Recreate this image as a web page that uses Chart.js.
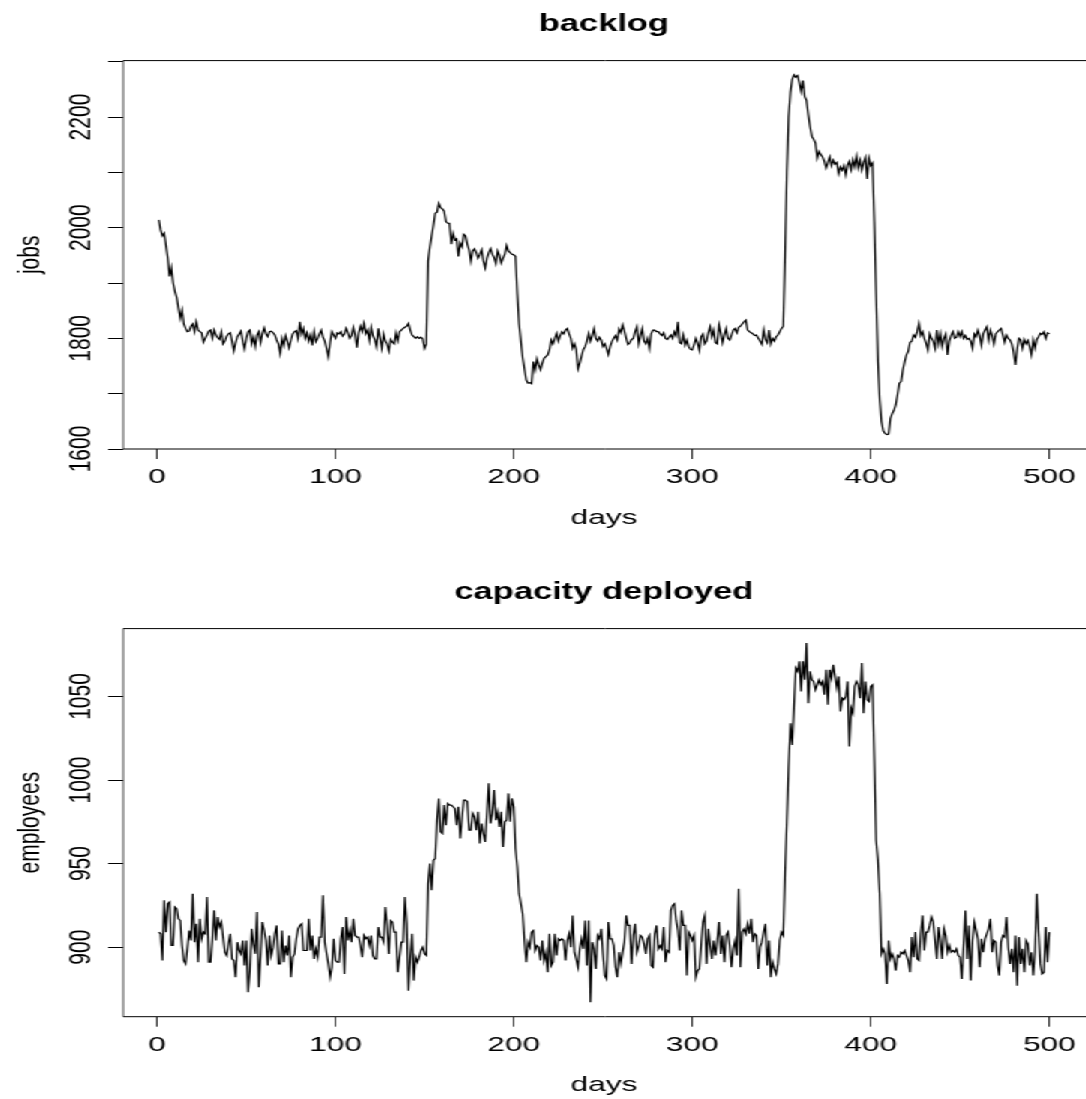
<!DOCTYPE html>
<html>
<head>
<meta charset="utf-8">
<title>backlog / capacity deployed</title>
<script src="https://cdn.jsdelivr.net/npm/chart.js@4.4.1/dist/chart.umd.min.js"></script>
<style>
  html, body { margin: 0; padding: 0; background: #fff; overflow: hidden; }
  /* plots are laid out at 724px wide and stretched to the full page width */
  #page { width: 724px; height: 1099px; transform: scaleX(1.5); transform-origin: 0 0; }
  .panel { position: relative; width: 724px; }
</style>
</head>
<body>
<div id="page">
  <div class="panel" style="height:568px"><canvas id="backlogChart"></canvas></div>
  <div class="panel" style="height:531px"><canvas id="capacityChart"></canvas></div>
</div>
<script>
// jobs waiting, one value per day (days 1..500)
const backlog = [
  2014, 1996, 1985, 1990, 1968, 1945, 1912, 1928, 1900, 1885,
  1874, 1855, 1836, 1851, 1826, 1818, 1812, 1813, 1822, 1826,
  1812, 1830, 1815, 1812, 1810, 1793, 1800, 1806, 1813, 1815,
  1800, 1815, 1806, 1801, 1798, 1812, 1790, 1795, 1804, 1808,
  1810, 1795, 1777, 1792, 1803, 1808, 1813, 1795, 1781, 1800,
  1812, 1815, 1790, 1802, 1785, 1806, 1812, 1792, 1809, 1819,
  1808, 1803, 1812, 1813, 1810, 1806, 1797, 1790, 1773, 1800,
  1787, 1805, 1795, 1783, 1797, 1808, 1812, 1814, 1800, 1830,
  1808, 1818, 1800, 1810, 1795, 1806, 1787, 1812, 1794, 1800,
  1808, 1815, 1802, 1795, 1782, 1767, 1793, 1812, 1806, 1800,
  1810, 1808, 1812, 1804, 1808, 1818, 1810, 1800, 1805, 1820,
  1806, 1783, 1810, 1822, 1812, 1827, 1808, 1815, 1796, 1820,
  1805, 1798, 1785, 1818, 1800, 1782, 1808, 1795, 1790, 1777,
  1798, 1793, 1790, 1810, 1796, 1812, 1815, 1818, 1820, 1822,
  1827, 1815, 1806, 1803, 1800, 1803, 1800, 1802, 1799, 1782,
  1790, 1940, 1965, 1985, 2005, 2026, 2028, 2044, 2036, 2034,
  2030, 2011, 2008, 2008, 1970, 1990, 1978, 1980, 1948, 1972,
  1965, 1988, 1985, 1970, 1960, 1939, 1958, 1962, 1955, 1945,
  1952, 1960, 1940, 1927, 1945, 1955, 1962, 1952, 1946, 1935,
  1958, 1950, 1936, 1945, 1952, 1968, 1958, 1955, 1952, 1951,
  1948, 1880, 1826, 1795, 1765, 1745, 1725, 1719, 1720, 1718,
  1758, 1743, 1763, 1752, 1743, 1755, 1764, 1767, 1770, 1779,
  1797, 1790, 1800, 1809, 1795, 1805, 1812, 1808, 1815, 1818,
  1808, 1800, 1782, 1790, 1780, 1745, 1755, 1768, 1780, 1785,
  1795, 1809, 1795, 1805, 1818, 1800, 1795, 1802, 1797, 1785,
  1790, 1782, 1771, 1785, 1794, 1800, 1805, 1797, 1817, 1810,
  1824, 1813, 1800, 1789, 1792, 1798, 1800, 1812, 1821, 1790,
  1805, 1818, 1795, 1790, 1800, 1782, 1808, 1815, 1815, 1812,
  1812, 1808, 1805, 1810, 1800, 1798, 1802, 1806, 1800, 1812,
  1805, 1830, 1792, 1790, 1806, 1788, 1797, 1785, 1780, 1779,
  1788, 1800, 1792, 1778, 1803, 1808, 1790, 1795, 1810, 1821,
  1803, 1815, 1792, 1790, 1824, 1810, 1792, 1806, 1818, 1800,
  1797, 1806, 1815, 1818, 1810, 1820, 1822, 1826, 1830, 1833,
  1815, 1812, 1810, 1808, 1805, 1806, 1800, 1795, 1789, 1815,
  1798, 1792, 1815, 1790, 1800, 1795, 1803, 1806, 1812, 1818,
  1822, 1950, 2100, 2200, 2245, 2268, 2276, 2272, 2275, 2262,
  2246, 2266, 2237, 2230, 2204, 2183, 2165, 2160, 2153, 2126,
  2138, 2132, 2128, 2120, 2108, 2118, 2128, 2112, 2122, 2115,
  2118, 2098, 2110, 2104, 2112, 2095, 2113, 2120, 2105, 2123,
  2110, 2129, 2108, 2122, 2104, 2118, 2127, 2088, 2125, 2112,
  2117, 2010, 1880, 1760, 1690, 1650, 1633, 1628, 1626, 1627,
  1655, 1664, 1670, 1680, 1698, 1719, 1722, 1743, 1758, 1770,
  1777, 1793, 1795, 1806, 1802, 1812, 1827, 1805, 1812, 1800,
  1791, 1779, 1808, 1800, 1795, 1782, 1815, 1790, 1808, 1785,
  1800, 1808, 1770, 1795, 1805, 1812, 1800, 1802, 1812, 1803,
  1812, 1800, 1805, 1798, 1800, 1795, 1782, 1808, 1803, 1815,
  1805, 1787, 1808, 1815, 1821, 1797, 1815, 1805, 1790, 1808,
  1812, 1815, 1818, 1806, 1793, 1806, 1800, 1797, 1790, 1775,
  1752, 1780, 1800, 1797, 1782, 1798, 1790, 1796, 1785, 1770,
  1797, 1782, 1798, 1803, 1809, 1807, 1812, 1800, 1810, 1808
];

// employees on duty, one value per day (days 1..500)
const capacity = [
  909, 908, 892, 928, 909, 926, 927, 901, 901, 924,
  923, 917, 916, 901, 892, 890, 899, 910, 904, 932,
  903, 914, 891, 917, 905, 909, 908, 930, 891, 891,
  905, 922, 904, 918, 912, 915, 906, 897, 895, 902,
  908, 893, 892, 882, 903, 898, 896, 904, 889, 904,
  873, 886, 911, 902, 896, 921, 876, 895, 915, 910,
  904, 889, 907, 895, 900, 908, 913, 890, 890, 910,
  891, 901, 895, 907, 882, 894, 896, 905, 911, 913,
  914, 898, 898, 898, 917, 898, 907, 893, 899, 894,
  906, 906, 931, 903, 896, 890, 882, 888, 905, 892,
  891, 891, 905, 912, 884, 918, 904, 910, 903, 917,
  907, 906, 906, 901, 894, 907, 905, 906, 901, 907,
  895, 893, 893, 912, 906, 906, 903, 924, 913, 896,
  916, 915, 909, 909, 885, 894, 903, 903, 930, 914,
  874, 894, 908, 880, 894, 891, 894, 898, 900, 896,
  895, 938, 950, 934, 952, 953, 976, 989, 969, 968,
  985, 973, 986, 985, 985, 984, 983, 973, 984, 965,
  977, 988, 988, 987, 970, 970, 980, 978, 970, 981,
  962, 974, 968, 963, 980, 998, 974, 980, 994, 976,
  981, 972, 981, 960, 975, 976, 992, 975, 989, 984,
  959, 948, 932, 926, 920, 904, 891, 903, 900, 909,
  910, 898, 901, 900, 892, 904, 892, 897, 885, 908,
  889, 891, 908, 895, 905, 904, 905, 904, 892, 904,
  908, 900, 919, 897, 893, 888, 899, 905, 899, 916,
  889, 916, 867, 903, 899, 887, 907, 905, 911, 896,
  883, 881, 915, 905, 905, 901, 888, 882, 897, 890,
  897, 903, 919, 913, 913, 890, 907, 914, 897, 901,
  907, 906, 902, 896, 905, 907, 889, 888, 908, 913,
  899, 901, 899, 912, 891, 898, 897, 922, 925, 926,
  916, 910, 898, 922, 913, 913, 883, 909, 907, 904,
  907, 882, 886, 887, 901, 915, 919, 890, 911, 901,
  893, 904, 895, 904, 915, 896, 907, 891, 907, 909,
  901, 888, 899, 904, 895, 935, 888, 909, 911, 908,
  914, 908, 917, 903, 908, 907, 887, 900, 903, 909,
  914, 889, 904, 882, 891, 887, 884, 890, 904, 909,
  907, 944, 975, 1008, 1034, 1021, 1044, 1067, 1065, 1071,
  1053, 1071, 1060, 1082, 1046, 1065, 1060, 1059, 1054, 1057,
  1060, 1057, 1059, 1051, 1066, 1045, 1066, 1061, 1069, 1062,
  1055, 1062, 1041, 1049, 1048, 1050, 1059, 1020, 1043, 1040,
  1056, 1059, 1057, 1049, 1070, 1040, 1059, 1048, 1047, 1056,
  1057, 1012, 964, 952, 932, 896, 899, 896, 878, 904,
  893, 896, 893, 886, 895, 894, 897, 896, 898, 895,
  892, 885, 906, 894, 909, 893, 892, 908, 919, 898,
  909, 909, 913, 918, 915, 904, 893, 912, 904, 893,
  911, 907, 897, 901, 897, 898, 897, 899, 895, 894,
  881, 901, 922, 893, 913, 880, 904, 915, 910, 905,
  888, 905, 897, 905, 908, 911, 917, 897, 904, 903,
  889, 883, 903, 907, 906, 918, 900, 890, 899, 885,
  907, 877, 906, 890, 899, 885, 904, 902, 889, 897,
  883, 897, 932, 909, 890, 884, 885, 912, 891, 909
];

const days = backlog.map((_, i) => i + 1);

const dayTicks = [0, 100, 200, 300, 400, 500];
const dayTickLabels = ['0', '100', '200', '300', '400', '500'];
const backlogTicks = [1600, 1700, 1800, 1900, 2000, 2100, 2200, 2300];
const backlogTickLabels = ['1600', '', '1800', '', '2000', '', '2200', ''];
const capacityTicks = [900, 950, 1000, 1050];
const capacityTickLabels = ['900', '950', '1000', '1050'];

Chart.defaults.font.family = "'Liberation Sans', Arial, Helvetica, sans-serif";
Chart.defaults.color = '#000';

// axis range like R: data range plus 4% on each side
function padded(values) {
  const lo = Math.min(...values);
  const hi = Math.max(...values);
  const pad = (hi - lo) * 0.04;
  return { min: lo - pad, max: hi + pad };
}

// open box round the plot region (right edge falls off the page);
// the left edge is drawn thinner since the page is stretched sideways
const plotBox = {
  id: 'plotBox',
  afterDatasetsDraw(chart) {
    const { ctx, chartArea: a } = chart;
    ctx.save();
    ctx.strokeStyle = '#000';
    ctx.lineWidth = 1;
    ctx.beginPath();
    ctx.moveTo(a.right + 2, a.top);
    ctx.lineTo(a.left, a.top);
    ctx.moveTo(a.left, a.bottom);
    ctx.lineTo(a.right + 2, a.bottom);
    ctx.stroke();
    ctx.lineWidth = 0.7;
    ctx.beginPath();
    ctx.moveTo(a.left, a.top);
    ctx.lineTo(a.left, a.bottom);
    ctx.stroke();
    ctx.restore();
  }
};

function makeChart(id, titleText, yTitle, values, yTicks, yLabels, xAxisHeight, xTitlePad) {
  const xr = padded(days);
  const yr = padded(values);
  return new Chart(document.getElementById(id), {
    type: 'line',
    data: {
      datasets: [{
        data: values.map((v, i) => ({ x: days[i], y: v })),
        borderColor: '#000',
        borderWidth: 1.2,
        pointRadius: 0,
        tension: 0,
        fill: false
      }]
    },
    options: {
      responsive: true,
      maintainAspectRatio: false,
      animation: false,
      events: [],
      layout: { padding: 0 },
      plugins: {
        legend: { display: false },
        tooltip: { enabled: false },
        title: {
          display: true,
          text: titleText,
          fullSize: false,
          color: '#000',
          font: { size: 23, weight: 'bold', lineHeight: 1.2 },
          padding: { top: 11, bottom: 22 }
        }
      },
      scales: {
        x: {
          type: 'linear',
          min: xr.min,
          max: xr.max,
          afterBuildTicks: s => { s.ticks = dayTicks.map(v => ({ value: v })); },
          afterFit: s => { s.height = xAxisHeight; },
          border: { display: false },
          grid: { drawOnChartArea: false, drawTicks: true, tickLength: 10, color: '#000', lineWidth: 0.8 },
          ticks: {
            autoSkip: false,
            maxRotation: 0,
            padding: 6,
            font: { size: 21 },
            callback: (v, i) => dayTickLabels[i]
          },
          title: { display: true, text: 'days', font: { size: 21 }, padding: { top: 0, bottom: xTitlePad } }
        },
        y: {
          type: 'linear',
          min: yr.min,
          max: yr.max,
          afterBuildTicks: s => { s.ticks = yTicks.map(v => ({ value: v })); },
          afterFit: s => { s.width = 82; },
          border: { display: false },
          grid: { drawOnChartArea: false, drawTicks: true, tickLength: 10, color: '#000', lineWidth: 1 },
          ticks: {
            autoSkip: false,
            minRotation: 90,
            maxRotation: 90,
            crossAlign: 'center',
            padding: -5.3,
            font: { size: 21 },
            callback: (v, i) => yLabels[i]
          },
          title: { display: true, text: yTitle, font: { size: 21 }, padding: { top: 7.4, bottom: 0 } }
        }
      }
    },
    plugins: [plotBox]
  });
}

makeChart('backlogChart', 'backlog', 'jobs', backlog, backlogTicks, backlogTickLabels, 119, 37);
makeChart('capacityChart', 'capacity deployed', 'employees', capacity, capacityTicks, capacityTickLabels, 82.3, 1);
</script>
</body>
</html>
